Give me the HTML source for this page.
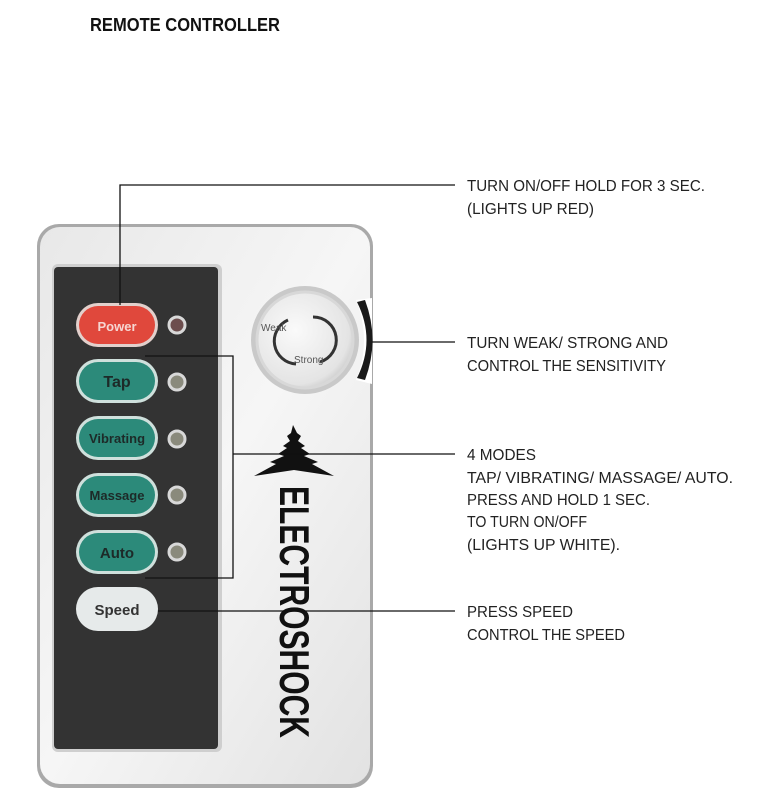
<!DOCTYPE html>
<html><head><meta charset="utf-8"><style>
html,body{margin:0;padding:0;background:#fff;}
svg{display:block}
text{font-family:"Liberation Sans",sans-serif;}
</style></head><body>
<svg width="764" height="800" viewBox="0 0 764 800" xmlns="http://www.w3.org/2000/svg">
<defs>
<linearGradient id="body" x1="0" y1="0" x2="1" y2="1">
<stop offset="0" stop-color="#e8e8e8"/><stop offset="0.5" stop-color="#f6f6f6"/><stop offset="1" stop-color="#e2e2e2"/>
</linearGradient>
<radialGradient id="knob" cx="0.4" cy="0.4" r="0.7">
<stop offset="0" stop-color="#fafafa"/><stop offset="0.8" stop-color="#e4e4e4"/><stop offset="1" stop-color="#c0c0c0"/>
</radialGradient>
</defs>
<text x="90" y="31" font-size="18" font-weight="bold" fill="#111" textLength="190" lengthAdjust="spacingAndGlyphs">REMOTE CONTROLLER</text>

<rect x="37" y="224" width="336" height="564" rx="22" fill="#a9a9a9"/>
<rect x="40" y="227" width="330" height="557" rx="20" fill="url(#body)"/>
<path d="M356 300 Q372 340 356 380 L372 384 L372 298 Z" fill="#fff"/>
<path d="M357 302 Q376 340 357 378 L365 380 Q380 340 365 300 Z" fill="#1a1a1a"/>
<rect x="52" y="264" width="170" height="488" rx="6" fill="#cfcfcf"/>
<rect x="54" y="267" width="164" height="482" rx="4" fill="#333"/>

<g font-weight="bold" text-anchor="middle">
<rect x="76" y="303" width="82" height="44" rx="22" fill="#e2d0cc"/>
<rect x="79" y="306" width="76" height="38" rx="19" fill="#e0483c"/>
<text x="117" y="331" font-size="13" fill="#f6d6d2">Power</text>

<rect x="76" y="359" width="82" height="44" rx="22" fill="#cfe0dc"/>
<rect x="79" y="362" width="76" height="38" rx="19" fill="#2c8a7a"/>
<text x="117" y="387" font-size="16" fill="#1d2a28">Tap</text>

<rect x="76" y="416" width="82" height="44" rx="22" fill="#cfe0dc"/>
<rect x="79" y="419" width="76" height="38" rx="19" fill="#2c8a7a"/>
<text x="117" y="443" font-size="13" fill="#1d2a28">Vibrating</text>

<rect x="76" y="473" width="82" height="44" rx="22" fill="#cfe0dc"/>
<rect x="79" y="476" width="76" height="38" rx="19" fill="#2c8a7a"/>
<text x="117" y="500" font-size="13" fill="#1d2a28">Massage</text>

<rect x="76" y="530" width="82" height="44" rx="22" fill="#cfe0dc"/>
<rect x="79" y="533" width="76" height="38" rx="19" fill="#2c8a7a"/>
<text x="117" y="558" font-size="15" fill="#1d2a28">Auto</text>

<rect x="76" y="587" width="82" height="44" rx="22" fill="#e6eaea"/>
<text x="117" y="615" font-size="15" fill="#333">Speed</text>
</g>
<g stroke="#d8d8d8" stroke-width="3">
<circle cx="177" cy="325" r="8" fill="#6c4d4d"/>
<circle cx="177" cy="382" r="8" fill="#8a8a7c"/>
<circle cx="177" cy="439" r="8" fill="#8a8a7c"/>
<circle cx="177" cy="495" r="8" fill="#8a8a7c"/>
<circle cx="177" cy="552" r="8" fill="#8a8a7c"/>
</g>

<circle cx="305" cy="340" r="54" fill="#c9c9c9"/>
<circle cx="305" cy="340" r="48" fill="url(#knob)" stroke="#d8d8d8" stroke-width="3"/>
<path d="M313 317 A23 23 0 0 1 320 362" fill="none" stroke="#333" stroke-width="3"/>
<path d="M296 364 A23 23 0 0 1 288 320" fill="none" stroke="#333" stroke-width="3"/>
<text x="261" y="331" font-size="10" fill="#555">Weak</text>
<text x="294" y="363" font-size="10" fill="#555">Strong</text>

<path d="M293 425 L297 433 L301 436 L298 441 L305 446 L301 448 L310 454 L304 456 L318 462 L312 464 L334 476 L294 470 L254 476 L276 464 L270 462 L284 456 L278 454 L287 448 L283 446 L290 441 L287 436 L291 433 Z" fill="#111"/>
<text transform="translate(280,486) rotate(90)" font-size="42" font-weight="bold" fill="#111" textLength="252" lengthAdjust="spacingAndGlyphs">ELECTROSHOCK</text>

<g stroke="#111" stroke-width="1.3" fill="none">
<polyline points="120,305 120,185 455,185"/>
<polyline points="145,356 233,356 233,578 145,578"/>
<line x1="233" y1="454" x2="455" y2="454"/>
<line x1="158" y1="611" x2="455" y2="611"/>
<line x1="372" y1="342" x2="455" y2="342"/>
</g>

<g font-size="16" fill="#222" lengthAdjust="spacingAndGlyphs">
<text x="467" y="191" textLength="238" lengthAdjust="spacingAndGlyphs">TURN ON/OFF HOLD FOR 3 SEC.</text>
<text x="467" y="214" textLength="127" lengthAdjust="spacingAndGlyphs">(LIGHTS UP RED)</text>
<text x="467" y="348" textLength="201" lengthAdjust="spacingAndGlyphs">TURN WEAK/ STRONG AND</text>
<text x="467" y="371" textLength="199" lengthAdjust="spacingAndGlyphs">CONTROL THE SENSITIVITY</text>
<text x="467" y="460" textLength="69" lengthAdjust="spacingAndGlyphs">4 MODES</text>
<text x="467" y="483" textLength="266" lengthAdjust="spacingAndGlyphs">TAP/ VIBRATING/ MASSAGE/ AUTO.</text>
<text x="467" y="505" textLength="183" lengthAdjust="spacingAndGlyphs">PRESS AND HOLD 1 SEC.</text>
<text x="467" y="527" textLength="120" lengthAdjust="spacingAndGlyphs">TO TURN ON/OFF</text>
<text x="467" y="550" textLength="153" lengthAdjust="spacingAndGlyphs">(LIGHTS UP WHITE).</text>
<text x="467" y="617" textLength="106" lengthAdjust="spacingAndGlyphs">PRESS SPEED</text>
<text x="467" y="640" textLength="158" lengthAdjust="spacingAndGlyphs">CONTROL THE SPEED</text>
</g>
</svg>
</body></html>
